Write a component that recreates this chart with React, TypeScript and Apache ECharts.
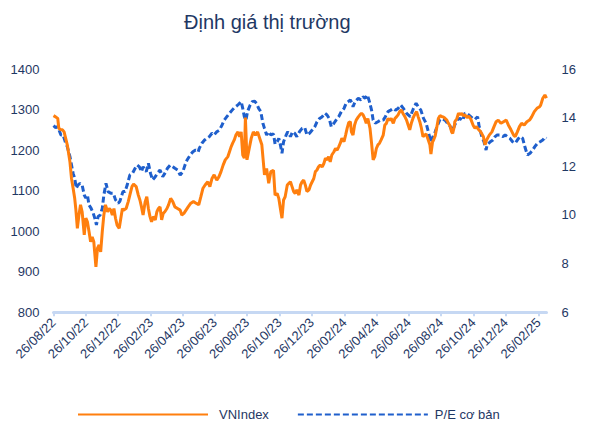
import React, { useEffect, useRef } from "react";
import * as echarts from "echarts";

// Tick labels (dd/mm/yy), every two months
const tickLabels = [
  "26/08/22", "26/10/22", "26/12/22", "26/02/23", "26/04/23", "26/06/23",
  "26/08/23", "26/10/23", "26/12/23", "26/02/24", "26/04/24", "26/06/24",
  "26/08/24", "26/10/24", "26/12/24", "26/02/25",
];

// Days since 26/08/22 for each VNIndex reading
const vnDays = [
  0, 4, 8, 10, 14, 17, 20, 23, 26, 31, 34, 37, 40, 42, 45, 48, 51, 54, 58, 61,
  64, 67, 70, 73, 76, 80, 83, 86, 89, 92, 95, 98, 102, 105, 108, 111, 114, 117, 120, 124,
  127, 130, 132, 137, 141, 144, 148, 151, 156, 160, 163, 166, 169, 173, 176, 179, 182, 185, 188, 192,
  195, 198, 201, 204, 207, 210, 214, 217, 221, 225, 229, 234, 239, 242, 246, 250, 254, 259, 264, 269,
  274, 278, 282, 286, 291, 295, 299, 303, 308, 312, 316, 320, 324, 329, 332, 335, 338, 341, 344, 348,
  351, 354, 357, 360, 362, 365, 368, 373, 377, 381, 385, 390, 393, 398, 402, 406, 410, 415, 418, 422,
  425, 428, 431, 434, 437, 441, 444, 447, 450, 453, 456, 459, 463, 466, 469, 472, 475, 478, 482, 485,
  488, 491, 494, 497, 500, 503, 507, 510, 513, 516, 519, 522, 525, 529, 532, 535, 538, 541, 544, 548,
  551, 554, 557, 560, 562, 565, 568, 571, 575, 578, 581, 584, 587, 590, 593, 597, 600, 603, 606, 609,
  612, 615, 618, 622, 625, 628, 631, 634, 637, 641, 644, 647, 650, 653, 656, 659, 663, 666, 669, 672,
  675, 678, 681, 685, 688, 691, 694, 697, 700, 703, 707, 710, 712, 715, 717, 720, 723, 726, 729, 732,
  735, 738, 742, 745, 748, 751, 753, 756, 757, 761, 764, 767, 770, 773, 776, 780, 783, 787, 792, 795,
  798, 801, 806, 811, 814, 817, 822, 827, 831, 835, 839, 844, 849, 854, 858, 863, 868, 871, 875, 879,
  883, 888, 893, 898, 902, 907, 912, 917, 919, 923, 927, 930,
];
const vnIndex = [
  1285, 1282, 1278, 1254, 1250, 1250, 1245, 1229, 1213, 1171, 1130, 1106, 1081, 1056, 1007, 1040, 1065, 1048, 991, 1032,
  1023, 999, 974, 986, 974, 912, 958, 966, 949, 999, 1040, 1065, 1048, 1056, 1052, 1040, 1056, 1032, 1015, 1007,
  1032, 1056, 1052, 1056, 1073, 1089, 1110, 1116, 1110, 1089, 1077, 1060, 1040, 1073, 1085, 1056, 1036, 1023, 1036, 1028,
  1048, 1056, 1060, 1028, 1044, 1048, 1056, 1065, 1081, 1073, 1060, 1056, 1052, 1040, 1044, 1052, 1060, 1069, 1073, 1069,
  1065, 1085, 1106, 1114, 1122, 1110, 1130, 1139, 1126, 1134, 1147, 1163, 1176, 1184, 1196, 1208, 1217, 1225, 1237, 1245,
  1233, 1245, 1188, 1180, 1280, 1176, 1196, 1229, 1245, 1237, 1245, 1225, 1213, 1139, 1155, 1118, 1147, 1150, 1089, 1093,
  1081, 1056, 1032, 1077, 1085, 1114, 1118, 1122, 1110, 1098, 1093, 1102, 1089, 1114, 1122, 1126, 1114, 1098, 1102, 1114,
  1122, 1130, 1147, 1151, 1159, 1163, 1159, 1167, 1180, 1176, 1184, 1171, 1188, 1196, 1204, 1200, 1208, 1217, 1229, 1221,
  1237, 1254, 1268, 1270, 1245, 1237, 1262, 1274, 1282, 1287, 1291, 1287, 1278, 1266, 1278, 1254, 1217, 1176, 1184, 1204,
  1213, 1217, 1225, 1237, 1262, 1266, 1278, 1274, 1278, 1266, 1278, 1282, 1287, 1295, 1299, 1291, 1282, 1274, 1262, 1250,
  1266, 1278, 1287, 1295, 1282, 1270, 1254, 1233, 1237, 1240, 1225, 1213, 1190, 1220, 1225, 1235, 1256, 1278, 1285, 1283,
  1282, 1279, 1274, 1266, 1260, 1245, 1241, 1258, 1270, 1278, 1291, 1287, 1291, 1285, 1287, 1280, 1284, 1277, 1260, 1254,
  1258, 1252, 1245, 1233, 1213, 1225, 1237, 1245, 1258, 1270, 1274, 1266, 1270, 1274, 1262, 1250, 1237, 1233, 1245, 1258,
  1266, 1262, 1270, 1274, 1282, 1295, 1303, 1307, 1311, 1328, 1336, 1328,
];

// Days since 26/08/22 for each P/E reading
const peDays = [
  0, 4, 8, 14, 18, 23, 26, 31, 34, 37, 40, 43, 46, 50, 54, 58, 61, 64, 67, 71,
  75, 78, 81, 84, 88, 92, 95, 99, 103, 108, 113, 117, 122, 125, 131, 135, 139, 144, 149, 154,
  158, 162, 166, 169, 175, 179, 183, 187, 192, 196, 201, 206, 210, 215, 220, 225, 229, 234, 239, 244,
  248, 252, 258, 263, 268, 273, 275, 280, 285, 289, 294, 299, 303, 308, 313, 318, 322, 327, 332, 337,
  341, 346, 349, 354, 357, 360, 363, 366, 371, 375, 379, 383, 387, 391, 395, 398, 402, 406, 410, 415,
  418, 422, 425, 428, 431, 434, 439, 442, 447, 451, 455, 459, 464, 469, 474, 478, 483, 488, 493, 497,
  502, 507, 512, 516, 520, 524, 529, 533, 538, 543, 548, 552, 556, 560, 563, 565, 569, 575, 580, 584,
  588, 592, 596, 600, 603, 607, 612, 617, 622, 626, 631, 636, 641, 645, 650, 655, 660, 666, 673, 679,
  684, 688, 693, 698, 703, 707, 712, 715, 720, 724, 729, 734, 739, 743, 748, 752, 757, 762, 767, 772,
  776, 781, 786, 791, 795, 800, 803, 808, 812, 816, 818, 824, 829, 833, 837, 842, 848, 852, 856, 861,
  866, 871, 875, 880, 885, 890, 894, 899, 904, 908, 913, 918, 923, 927, 930,
];
const peValues = [
  13.67, 13.59, 13.63, 13.29, 13.29, 12.95, 12.81, 12.4, 12.05, 11.71, 11.51, 11.1, 11.23, 11.3, 11.23, 10.82, 10.69, 10.82, 10.41, 10.27,
  10.07, 9.86, 9.59, 9.93, 10.0, 10.27, 10.82, 11.3, 10.96, 10.89, 10.89, 10.62, 10.48, 10.55, 10.96, 10.96, 11.23, 11.64, 11.71, 11.92,
  12.05, 11.98, 11.78, 11.98, 11.78, 12.12, 11.71, 11.44, 11.57, 11.71, 11.85, 11.57, 11.71, 11.92, 12.05, 11.98, 11.92, 11.85, 11.64, 11.78,
  12.05, 12.26, 12.47, 12.6, 12.67, 12.6, 12.74, 12.95, 13.08, 13.15, 13.22, 13.36, 13.29, 13.42, 13.49, 13.7, 13.9, 14.04, 14.18, 14.31,
  14.41, 14.49, 14.55, 14.66, 14.38, 14.04, 13.9, 14.25, 14.52, 14.66, 14.68, 14.59, 14.38, 14.25, 13.77, 13.56, 13.29, 13.42, 13.29, 13.33,
  12.92, 13.01, 13.15, 12.88, 12.54, 13.01, 13.29, 13.42, 13.22, 13.42, 13.36, 13.22, 13.42, 13.56, 13.59, 13.29, 13.36, 13.49, 13.63, 13.83,
  13.97, 14.04, 14.18, 14.11, 13.97, 13.63, 13.77, 13.9, 14.04, 14.25, 14.38, 14.59, 14.66, 14.73, 14.59, 14.45, 14.66, 14.8, 14.73, 14.86,
  14.8, 14.93, 14.66, 14.31, 13.9, 13.77, 13.83, 13.9, 13.9, 14.04, 14.25, 14.31, 14.38, 14.31, 14.38, 14.52, 14.38, 14.18, 14.04, 14.38,
  14.59, 14.45, 14.31, 13.97, 13.77, 13.42, 13.0, 13.18, 13.42, 13.66, 13.93, 13.95, 13.89, 13.77, 13.65, 13.45, 13.7, 13.92, 13.97, 13.88,
  14.18, 14.15, 14.06, 13.97, 13.93, 14.04, 13.63, 13.22, 13.01, 12.67, 12.88, 13.01, 13.08, 13.22, 13.29, 13.29, 13.22, 13.29, 13.22, 13.15,
  13.01, 12.95, 13.08, 13.22, 13.15, 12.74, 12.47, 12.54, 12.67, 12.81, 12.95, 13.01, 13.08, 13.19, 13.15,
];

const seriesNames = ["VNIndex", "P/E cơ bản"];
const titleText = "Định giá thị trường";

const START = Date.UTC(2022, 7, 26);
function dayOf(label: string): number {
  const [d, m, y] = label.split("/").map(Number);
  return Math.round((Date.UTC(2000 + y, m - 1, d) - START) / 86400000);
}

const NAVY = "#1F3864";
const FONT = "Liberation Sans, Arial, sans-serif";

export default function App() {
  const ref = useRef<HTMLDivElement>(null);
  useEffect(() => {
    document.body.style.margin = "0";
    if (!ref.current) return;
    const chart = echarts.init(ref.current, undefined, { renderer: "svg" });
    const tickDays = tickLabels.map(dayOf);
    const labelMap: Record<number, string> = {};
    tickDays.forEach((d, i) => (labelMap[d] = tickLabels[i]));
    chart.setOption({
      animation: false,
      textStyle: { fontFamily: FONT },
      title: {
        text: titleText,
        left: 184,
        top: 12,
        padding: 0,
        textStyle: { fontFamily: FONT, fontSize: 20, fontWeight: "normal", color: NAVY },
      },
      grid: { left: 53.5, right: 56.5, top: 69, bottom: 108.7, containLabel: false },
      legend: {
        left: 72,
        top: 403,
        itemWidth: 130,
        itemHeight: 14,
        itemGap: 28,
        itemStyle: { opacity: 0 },
        textStyle: { fontFamily: FONT, fontSize: 13, color: NAVY },
        data: [
          { name: seriesNames[0], textStyle: { padding: [0, 0, 0, 6] } },
          { name: seriesNames[1], textStyle: { padding: [0, 0, 0, 2] } },
        ],
      },
      xAxis: {
        type: "value",
        min: 0,
        max: 930,
        splitLine: { show: false },
        axisLine: { show: true, onZero: false, lineStyle: { color: "#C6D8F3", width: 3 } },
        axisTick: {
          show: true,
          customValues: tickDays,
          length: 4,
          lineStyle: { color: "#C6D8F3", width: 2 },
        },
        axisLabel: {
          customValues: tickDays,
          rotate: 45,
          margin: 8,
          fontFamily: FONT,
          fontSize: 13,
          color: NAVY,
          formatter: (v: number) => labelMap[Math.round(v)] ?? "",
        },
      },
      yAxis: [
        {
          type: "value",
          min: 800,
          max: 1400,
          interval: 100,
          splitLine: { show: false },
          axisLine: { show: false },
          axisTick: { show: false },
          axisLabel: { margin: 14, fontFamily: FONT, fontSize: 13, color: NAVY, formatter: (v: number) => String(v) },
        },
        {
          type: "value",
          min: 6,
          max: 16,
          interval: 2,
          position: "right",
          splitLine: { show: false },
          axisLine: { show: false },
          axisTick: { show: false },
          axisLabel: { margin: 15, fontFamily: FONT, fontSize: 13, color: NAVY, formatter: (v: number) => String(v) },
        },
      ],
      series: [
        {
          name: seriesNames[0],
          type: "line",
          yAxisIndex: 0,
          symbol: "none",
          data: vnDays.map((d, i) => [d, vnIndex[i]]),
          lineStyle: { color: "#FF7F0E", width: 3 },
          itemStyle: { color: "#FF7F0E" },
          z: 3,
        },
        {
          name: seriesNames[1],
          type: "line",
          yAxisIndex: 1,
          symbol: "none",
          data: peDays.map((d, i) => [d, peValues[i]]),
          lineStyle: { color: "#1F5FCC", width: 3, type: [6, 3] },
          itemStyle: { color: "#1F5FCC" },
          z: 2,
        },
      ],
    });
    return () => chart.dispose();
  }, []);
  return <div ref={ref} style={{ width: 603, height: 421 }} />;
}
